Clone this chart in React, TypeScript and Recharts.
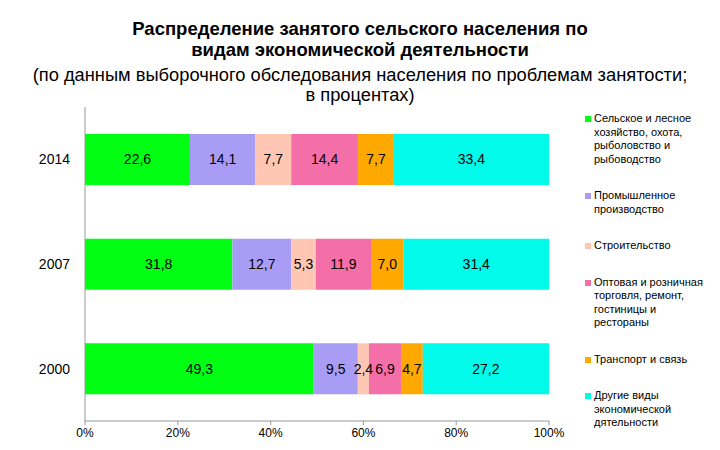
import React from 'react';
import { BarChart, Bar, XAxis, YAxis, Legend, LabelList } from 'recharts';

const years = ['2014', '2007', '2000'];
const agriculture = [22.6, 31.8, 49.3];
const industry = [14.1, 12.7, 9.5];
const construction = [7.7, 5.3, 2.4];
const trade = [14.4, 11.9, 6.9];
const transport = [7.7, 7.0, 4.7];
const other = [33.4, 31.4, 27.2];
const xTicks = [0, 0.2, 0.4, 0.6, 0.8, 1];
// band boundaries of the category axis (for the Excel-style tick marks)
const bandEdges = [0, 1, 2, 3];

const series = [
  { key: 'agriculture', values: agriculture, color: '#00ff12', name: 'Сельское и лесное\nхозяйство, охота,\nрыболовство и\nрыбоводство' },
  { key: 'industry', values: industry, color: '#a99cf4', name: 'Промышленное\nпроизводство' },
  { key: 'construction', values: construction, color: '#ffc6b4', name: 'Строительство' },
  { key: 'trade', values: trade, color: '#f46ea8', name: 'Оптовая и розничная\nторговля, ремонт,\nгостиницы и\nрестораны' },
  { key: 'transport', values: transport, color: '#ffa800', name: 'Транспорт и связь' },
  { key: 'other', values: other, color: '#00fbea', name: 'Другие виды\nэкономической\nдятельности' },
];

const data = years.map((year, i) => {
  const row: Record<string, any> = { year };
  series.forEach(s => { row[s.key] = s.values[i]; });
  return row;
});

const FONT = '"Liberation Sans", Arial, Helvetica, sans-serif';

const renderLegend = () => (
  <div style={{ fontFamily: FONT, fontSize: 11, lineHeight: '13.5px', color: '#000' }}>
    {series.map(s => (
      <div key={s.key} style={{ display: 'flex', alignItems: 'flex-start', marginBottom: 23 }}>
        <span style={{ width: 6, height: 6, background: s.color, marginTop: 4, marginRight: 3, flexShrink: 0 }} />
        <span style={{ whiteSpace: 'pre-line' }}>{s.name}</span>
      </div>
    ))}
  </div>
);

export default function App() {
  return (
    <div style={{ position: 'absolute', left: 0, top: 0, width: 720, height: 450, background: '#fff', fontFamily: FONT }}>
      <div style={{ position: 'absolute', top: 18, left: 0, width: 720, textAlign: 'center', fontWeight: 'bold', fontSize: 18.5, lineHeight: '21px' }}>
        Распределение занятого сельского населения по<br />видам экономической деятельности
      </div>
      <div style={{ position: 'absolute', top: 65, left: 0, width: 720, textAlign: 'center', fontSize: 18.3, lineHeight: '20px' }}>
        (по данным выборочного обследования населения по проблемам занятости;<br />в процентах)
      </div>
      <BarChart
        width={720}
        height={450}
        data={data}
        layout="vertical"
        stackOffset="expand"
        margin={{ top: 107, right: 171, bottom: 0, left: 0 }}
        style={{ position: 'absolute', left: 0, top: 0 }}
      >
        <XAxis
          type="number"
          domain={[0, 1]}
          ticks={xTicks}
          tickFormatter={(v: number) => `${Math.round(v * 100)}%`}
          stroke="#999"
          tickSize={4}
          tickMargin={3}
          height={29}
          tick={{ fill: '#000', fontSize: 12, fontFamily: FONT }}
        />
        <YAxis
          type="category"
          dataKey="year"
          width={85}
          stroke="#999"
          tickLine={false}
          tickSize={0}
          tickMargin={15}
          tick={{ fill: '#000', fontSize: 14, fontFamily: FONT }}
        />
        <YAxis
          yAxisId="edges"
          type="number"
          domain={[0, 3]}
          ticks={bandEdges}
          width={0}
          axisLine={false}
          stroke="#999"
          tickSize={4}
          tickFormatter={() => ''}
        />
        <Legend
          layout="vertical"
          align="center"
          verticalAlign="middle"
          content={renderLegend}
          wrapperStyle={{ left: 585, top: 112, width: 135 }}
        />
        {series.map(s => (
          <Bar key={s.key} dataKey={s.key} name={s.name} stackId="a" fill={s.color} barSize={51} isAnimationActive={false}>
            <LabelList
              dataKey={s.key}
              position="center"
              fill="#000"
              fontSize={14}
              fontFamily={FONT}
              formatter={(v: any) => Number(v).toFixed(1).replace('.', ',')}
            />
          </Bar>
        ))}
      </BarChart>
    </div>
  );
}
